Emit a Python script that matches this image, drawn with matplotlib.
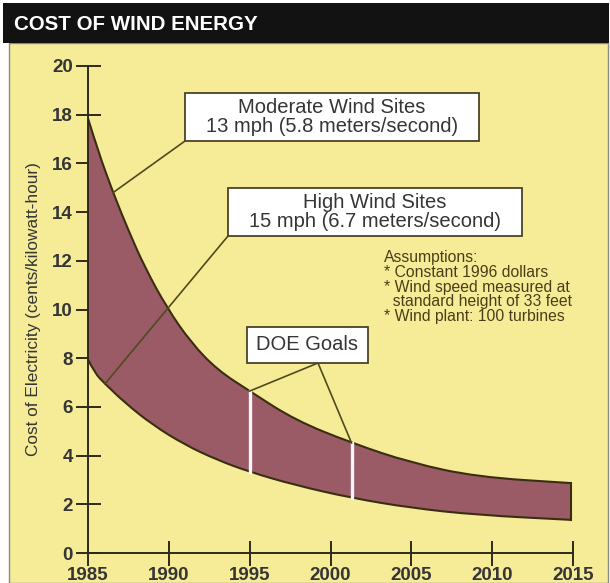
import matplotlib
matplotlib.use("Agg")
import matplotlib.pyplot as plt
from matplotlib.patches import Rectangle, PathPatch
from matplotlib.path import Path
import numpy as np

# ---- data ----
years_upper = [1985, 1985.6, 1986.55, 1987.5, 1988.5, 1989.9, 1991.4, 1993.0, 1995.0, 1997.8, 2001.3, 2005.0, 2009.1, 2014.9]
cost_moderate = [17.85, 16.55, 14.8, 13.25, 11.75, 10.05, 8.62, 7.52, 6.65, 5.46, 4.52, 3.70, 3.12, 2.87]
years_lower = [1985, 1985.4, 1986.05, 1987.3, 1989.0, 1991.0, 1993.0, 1995.0, 1997.8, 2001.3, 2005.0, 2009.1, 2014.9]
cost_high = [7.95, 7.4, 6.95, 6.16, 5.26, 4.44, 3.82, 3.33, 2.79, 2.26, 1.85, 1.56, 1.36]
goal_years = [1995, 2001.3]
goal_top = [6.65, 4.52]
goal_bottom = [3.33, 2.26]
x_ticks = [1985, 1990, 1995, 2000, 2005, 2010, 2015]
y_ticks = [0, 2, 4, 6, 8, 10, 12, 14, 16, 18, 20]

YELLOW = "#F6EC98"
MAROON = "#9A5B66"
EDGE = "#3A2E12"
LEADER = "#4E4A1E"
TEXT = "#353535"

W, H = 610, 583
fig = plt.figure(figsize=(W / 100, H / 100), dpi=100)
fig.patch.set_facecolor("white")

def fx(px):
    return px / W

def fy(py):
    return 1 - py / H

# background panel and title bar
fig.patches.append(Rectangle((fx(9), 0), fx(599), fy(43), transform=fig.transFigure,
                             facecolor=YELLOW, edgecolor="#8A8A80", linewidth=1.0, zorder=-2))
fig.patches.append(Rectangle((fx(3), fy(43)), fx(606), fy(3) - fy(43), transform=fig.transFigure,
                             facecolor="#121212", edgecolor="none", zorder=-1))
fig.text(fx(14), fy(25), "COST OF WIND ENERGY", color="white", fontsize=14.8,
         fontweight="bold", family="Liberation Sans", va="center", ha="left")

ax = fig.add_axes([fx(88), fy(553), fx(573) - fx(88), fy(66) - fy(553)])
ax.set_zorder(1)
ax.set_facecolor("none")
ax.set_xlim(1985, 2015)
ax.set_ylim(0, 20)


def smooth_path(xs, ys):
    """Quadratic-Bezier path through midpoints (rendering only)."""
    pts = np.column_stack([xs, ys])
    verts = [pts[0]]
    codes = [Path.MOVETO]
    for i in range(1, len(pts) - 1):
        mid = (pts[i] + pts[i + 1]) / 2
        verts += [pts[i], mid]
        codes += [Path.CURVE3, Path.CURVE3]
    verts.append(pts[-1])
    codes.append(Path.LINETO)
    return verts, codes


uv, uc = smooth_path(years_upper, cost_moderate)
lv, lc = smooth_path(years_lower[::-1], cost_high[::-1])
band_verts = uv + lv + [uv[0]]
band_codes = uc + [Path.LINETO] + lc[1:] + [Path.CLOSEPOLY]
ax.add_patch(PathPatch(Path(band_verts, band_codes), facecolor=MAROON, edgecolor="none", zorder=2))
ax.add_patch(PathPatch(Path(uv, uc), facecolor="none", edgecolor=EDGE, lw=1.5, zorder=3))
lv2, lc2 = smooth_path(years_lower, cost_high)
ax.add_patch(PathPatch(Path(lv2, lc2), facecolor="none", edgecolor=EDGE, lw=1.5, zorder=3))
ax.plot([years_upper[-1], years_lower[-1]], [cost_moderate[-1], cost_high[-1]],
        color=EDGE, lw=1.5, zorder=3)

# DOE goal white lines
for gx, gt, gb in zip(goal_years, goal_top, goal_bottom):
    ax.plot([gx, gx], [gb, gt], color="#FBF6FA", lw=2.4, zorder=4)

# spines / ticks
for s in ["top", "right"]:
    ax.spines[s].set_visible(False)
for s in ["left", "bottom"]:
    ax.spines[s].set_color("#2E2A18")
    ax.spines[s].set_linewidth(1.4)
    ax.spines[s].set_zorder(5)
ax.set_xticks(x_ticks)
ax.set_yticks(y_ticks)
ax.tick_params(direction="inout", length=18, width=1.4, color="#2E2A18",
               labelsize=13.5, labelcolor=TEXT)
ax.tick_params(axis="y", pad=2)
ax.tick_params(axis="x", pad=1)
for lab in ax.get_xticklabels() + ax.get_yticklabels():
    lab.set_family("Liberation Sans")
    lab.set_fontweight("bold")
ax.set_ylabel("Cost of Electricity (cents/kilowatt-hour)", fontsize=12.4,
              family="Liberation Sans", color=TEXT)
ax.yaxis.set_label_coords(-0.097, 0.5)

# annotation boxes (figure coordinates)
def box(x0, y0, x1, y1, lines, fs=14.5):
    fig.patches.append(Rectangle((fx(x0), fy(y1)), fx(x1 - x0), fy(y0) - fy(y1),
                                 transform=fig.transFigure, facecolor="white",
                                 edgecolor="#4A4326", linewidth=1.3, zorder=6))
    fig.text(fx((x0 + x1) / 2), fy((y0 + y1) / 2), lines, ha="center", va="center",
             fontsize=fs, color=TEXT, family="Liberation Sans", zorder=7, linespacing=0.95)

box(185, 93, 479, 141, "Moderate Wind Sites\n13 mph (5.8 meters/second)")
box(228, 188, 522, 236, "High Wind Sites\n15 mph (6.7 meters/second)")
box(247, 327, 368, 363, "DOE Goals")

# leader lines (pixel to data)
def to_data(px, py):
    return fig.transFigure.transform((fx(px), fy(py)))

def leader(p0, p1):
    a = ax.transData.inverted().transform(to_data(*p0))
    ax.plot([a[0], p1[0]], [a[1], p1[1]], color=LEADER, lw=1.2, zorder=5, clip_on=False)

leader((185, 141), (years_upper[2], cost_moderate[2]))
leader((228, 236), (years_lower[2], cost_high[2]))
leader((318, 363), (goal_years[0], goal_top[0]))
leader((318, 363), (goal_years[1], goal_top[1]))

fig.text(fx(384), fy(250), "Assumptions:\n* Constant 1996 dollars\n* Wind speed measured at\n  standard height of 33 feet\n* Wind plant: 100 turbines",
         ha="left", va="top", fontsize=11.3, color="#4A3E18", family="Liberation Sans",
         linespacing=0.98)

fig.savefig("out.png", dpi=100, facecolor=fig.get_facecolor())
